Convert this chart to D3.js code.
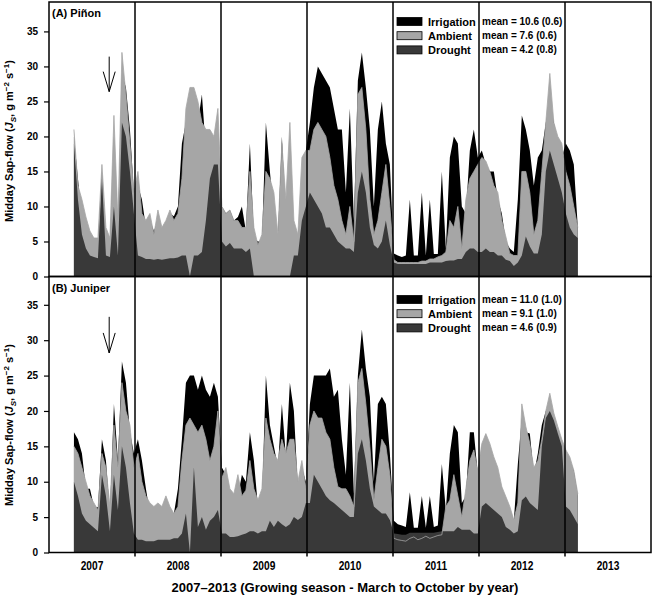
<!DOCTYPE html>
<html>
<head>
<meta charset="utf-8">
<script src="https://cdn.jsdelivr.net/npm/d3@7"></script>
<style>
  body { margin: 0; background: #fff; }
  text { font-family: Arial, "Liberation Sans", sans-serif; font-weight: bold; fill: #000; }
</style>
</head>
<body>
<div class="chart"></div>
<script>
// growing seasons shown along the bottom
const years = [2007, 2008, 2009, 2010, 2011, 2012, 2013];
const yTicks = [0, 5, 10, 15, 20, 25, 30, 35];

// readings are taken off the figure at a fixed spacing in (growing season) years
const firstSample = 2007.29;
const sampleStep = 0.0465;

const treatments = ['Irrigation', 'Ambient', 'Drought'];

// (A) pinon - midday sap flow
const pinonIrrigation = [
  20, 14, 8, 7, 5.7, 4.5, 5, 15, 5, 4.5,
  20, 7, 29, 27, 21, 12, 13, 11, 7, 8,
  6.5, 8, 6, 7, 9, 8.6, 10, 19, 22, 20,
  19, 22, 26, 18, 17, 16, 16, 10, 9, 9.5,
  8, 8.5, 10, 6.5, 19, 5.5, 5, 5, 22, 15,
  9, 5.5, 20, 8, 18, 6, 5.5, 12, 18, 22,
  27, 30, 29, 28, 27, 24, 21, 21, 12, 24,
  8, 28, 32, 27, 21, 10, 21, 25, 19, 16,
  3.3, 3, 2.8, 3, 11, 3, 3, 12, 3, 11,
  3.2, 3.2, 15, 4, 17, 20, 19, 10, 9, 18,
  21, 17, 18, 16, 15, 15, 11, 9, 5, 4,
  3.5, 11, 23, 21, 18, 13, 17, 18, 22, 25,
  22, 19, 17, 19, 18, 16, 7
];
const pinonAmbient = [
  21, 13, 11, 8.5, 6.5, 5.5, 5.5, 16, 7, 5.5,
  23, 8, 32, 26, 19, 12, 15, 9, 8, 9,
  6, 9.5, 7, 8, 9.5, 8, 9, 14, 24, 27,
  27, 25, 22, 21, 21, 20, 24, 10, 9, 9.5,
  8, 8, 7, 7, 15, 7, 4.5, 6, 15, 14,
  12, 6, 19, 11, 22, 8, 6, 17, 18, 18,
  21, 22, 21, 20, 17, 13, 11, 8, 6, 10,
  5, 26, 27, 21, 11, 6, 8, 12, 16, 10,
  2.4, 2, 2, 2, 2, 2, 2, 2.2, 2.2, 2.5,
  2.5, 2.8, 3, 3.5, 8, 7, 10, 4, 11, 14,
  15, 16, 17, 16.5, 15, 13, 12, 8, 5.7, 3.3,
  3, 3, 15, 15, 12, 6, 8, 15, 22, 29,
  22, 20, 19, 15, 13, 10, 7
];
const pinonDrought = [
  19, 11, 6, 4, 3, 2.8, 2.6, 14, 3, 2.8,
  10, 3, 22, 20, 15, 9, 3, 2.8, 2.5, 2.5,
  2.4, 2.5, 2.4, 2.5, 2.6, 2.6, 2.7, 3, 3, 0,
  3, 3, 3.5, 8, 14, 16, 16, 5, 4.3, 4.8,
  4, 4, 4, 3.5, 4, 0, 0, 0, 0, 0,
  0, 0, 0, 0, 0, 3, 3, 8, 10, 12,
  11, 10, 9, 7, 7, 6, 5, 4.5, 4, 4,
  3.5, 12, 15, 12, 7, 4.5, 4, 5, 8, 4.5,
  2, 1.8, 1.8, 1.8, 1.8, 1.8, 1.8, 1.8, 1.8, 2,
  2, 2, 2, 2.2, 2.3, 2.3, 2.5, 2.5, 3.5, 4,
  4, 3.5, 3.5, 4, 3.5, 3.5, 3, 3, 2.4, 2.2,
  1.5, 2, 3, 5.7, 4.3, 3.3, 3.3, 6, 15, 18,
  16, 14, 12, 9, 7, 6, 5.5
];
const pinonMeans = ['mean = 10.6 (0.6)', 'mean = 7.6 (0.6)', 'mean = 4.2 (0.8)'];
const pinonArrow = [2007.70, 31.4, 26.4];   // year, from, to

// (B) juniper - midday sap flow
const juniperIrrigation = [
  17, 16, 14, 9, 9, 6.5, 6.4, 16, 13, 5.5,
  21, 13, 27, 24, 17, 14, 16, 13, 9, 5.5,
  5, 4, 3.5, 5.5, 5.5, 5.5, 9, 16, 24, 25,
  25, 23, 25, 23, 22, 24, 22, 12, 11, 8,
  8, 8, 11, 10, 17, 13, 6.5, 7, 25, 18,
  15, 12, 21, 13.5, 24, 20, 9, 12, 10, 21,
  25, 25, 25, 25, 26, 22, 23, 16, 11, 24,
  8.3, 25, 31.5, 26, 22, 10, 21, 22, 21, 14,
  4.5, 4, 3.8, 3.6, 8.5, 3.5, 3.5, 8, 3.5, 8,
  3.6, 3.8, 12.5, 6, 14, 18, 17, 7, 8, 17,
  17, 11, 15, 16, 14.5, 13, 11, 9, 7, 6,
  4.5, 12.5, 19, 17, 16.8, 11, 14, 18, 20, 21,
  18, 15, 14, 13, 13, 11.5, 8
];
const juniperAmbient = [
  15, 14, 12, 10, 8, 7, 6, 14, 12, 6.5,
  18, 12, 24, 20, 18, 12, 14, 10, 8, 7,
  6.5, 7, 6.5, 8, 6.5, 5.5, 6.5, 13, 18, 19,
  18, 17, 18, 16, 13, 15, 20, 10.5, 12, 9,
  8.3, 11, 8, 8.8, 13, 9, 7.4, 9, 19, 16,
  14, 13, 16, 14, 16, 16, 10, 13, 9, 18,
  20, 19, 19, 17, 16, 12, 9.3, 9, 9, 8,
  6.5, 24, 26, 21, 15, 7.4, 12, 16, 15, 11,
  2, 1.8, 1.7, 1.6, 2, 2.2, 1.8, 2, 2.3, 2,
  2.2, 2.4, 2.5, 6.5, 7.4, 11, 8, 5, 9, 13,
  14.5, 11.5, 15.4, 16.8, 15.4, 13.5, 12, 9.3, 7.9, 6.5,
  4.6, 7, 21, 17.8, 15.4, 12, 13, 16, 20, 22.5,
  19.7, 17.8, 16, 14.5, 13.5, 11.6, 8.3
];
const juniperDrought = [
  10, 8, 5.5, 4.5, 4, 3.5, 3, 11, 8, 3,
  11, 6, 15, 12, 7, 2.7, 1.8, 1.8, 1.6, 1.6,
  1.6, 1.8, 1.8, 1.8, 1.8, 2, 2, 2.7, 5.5, 0,
  12, 3.6, 5, 3.2, 4.5, 5, 6, 2.7, 2.7, 2.2,
  2.2, 2.3, 2.5, 2.7, 3, 3, 2.7, 3, 3, 4.5,
  3.6, 4.5, 4, 3.6, 4, 5, 4.6, 5, 7, 7,
  11, 10, 9, 8, 7.4, 7, 6.5, 6, 5.5, 5,
  5, 14, 16, 13, 9, 6.5, 6, 5.5, 5.5, 4.6,
  2.7, 2.6, 2.5, 2.5, 2.8, 2.8, 2.8, 2.8, 2.8, 2.8,
  2.8, 2.9, 3, 3, 3, 3, 3.6, 3.2, 3.2, 3.2,
  2.7, 2.7, 6.5, 7, 6.5, 6, 5.5, 5, 3.6, 3.2,
  2.7, 3, 7.4, 7.9, 7, 6.5, 6, 15, 19, 20,
  18.7, 16.8, 15, 6.5, 6, 5, 4
];
const juniperMeans = ['mean = 11.0 (1.0)', 'mean = 9.1 (1.0)', 'mean = 4.6 (0.9)'];
const juniperArrow = [2007.70, 33.3, 28.2];

// ---- layout ----
const width = 652;
const height = 597;
const left = 49;
const right = 651;

const colours = { Irrigation: '#000000', Ambient: '#a6a6a6', Drought: '#393939' };

const panels = [
  { label: '(A) Piñon', top: 2, bottom: 276.5, yMax: 39.2, legendTop: 21.5, titleMid: 141,
    irr: pinonIrrigation, amb: pinonAmbient, dro: pinonDrought, means: pinonMeans, arrow: pinonArrow },
  { label: '(B)  Juniper', top: 276.5, bottom: 552.5, yMax: 39, legendTop: 299.5, titleMid: 425,
    irr: juniperIrrigation, amb: juniperAmbient, dro: juniperDrought, means: juniperMeans, arrow: juniperArrow }
];

const svg = d3.select('.chart').append('svg').attr('width', width).attr('height', height);

const x = d3.scaleLinear().domain([years[0], years[years.length - 1] + 1]).range([left, right]);

panels.forEach(p => {
  const y = d3.scaleLinear().domain([0, p.yMax]).range([p.bottom, p.top]);
  const g = svg.append('g');

  // join the three treatments by reading
  const rows = p.irr.map((v, i) => ({
    t: firstSample + i * sampleStep,
    irr: v, amb: p.amb[i], dro: p.dro[i]
  }));

  const area = key => d3.area().x(d => x(d.t)).y0(y(0)).y1(d => y(d[key]));

  // irrigation at the back, drought in front
  g.append('path').datum(rows).attr('d', area('irr')).attr('fill', colours.Irrigation);
  g.append('path').datum(rows).attr('d', area('amb')).attr('fill', colours.Ambient);
  g.append('path').datum(rows).attr('d', area('dro')).attr('fill', colours.Drought);
  // ambient edge stays visible where it drops under drought
  g.append('path').datum(rows)
    .attr('d', d3.line().x(d => x(d.t)).y(d => y(d.amb)))
    .attr('fill', 'none').attr('stroke', colours.Ambient).attr('stroke-width', 0.8);

  // frame
  g.append('rect')
    .attr('x', left).attr('y', p.top)
    .attr('width', right - left).attr('height', p.bottom - p.top)
    .attr('fill', 'none').attr('stroke', '#000').attr('stroke-width', 1.5);

  // y axis
  const yAxis = g.append('g')
    .attr('transform', `translate(${left},0)`)
    .call(d3.axisLeft(y).tickValues(yTicks).tickSize(5).tickSizeOuter(0).tickPadding(6));
  yAxis.select('.domain').remove();
  yAxis.selectAll('line').attr('stroke', '#000').attr('stroke-width', 1.2);
  yAxis.selectAll('text').style('font-size', '10px').style('font-weight', 'bold')
    .style('font-family', 'Arial, "Liberation Sans", sans-serif');

  // panel label
  g.append('text').attr('x', 52).attr('y', p.top + 15).style('font-size', '11px').text(p.label);

  // arrow marking an event
  const ax = x(p.arrow[0]);
  g.append('line')
    .attr('x1', ax).attr('x2', ax).attr('y1', y(p.arrow[1])).attr('y2', y(p.arrow[2]))
    .attr('stroke', '#000').attr('stroke-width', 1);
  g.append('path')
    .attr('d', `M${ax - 6},${y(p.arrow[2]) - 20}L${ax},${y(p.arrow[2])}L${ax + 6},${y(p.arrow[2]) - 20}`)
    .attr('fill', 'none').attr('stroke', '#000').attr('stroke-width', 1);

  // legend
  treatments.forEach((name, i) => {
    const ry = p.legendTop + i * 14.2;
    g.append('rect').attr('x', 397).attr('y', ry - 4).attr('width', 25).attr('height', 8)
      .attr('fill', colours[name]).attr('stroke', '#000').attr('stroke-width', 0.8);
    g.append('text').attr('x', 428).attr('y', ry + 4).style('font-size', '11px').text(name);
    g.append('text').attr('x', 482).attr('y', ry + 3.5).style('font-size', '10px').text(p.means[i]);
  });

  // y title
  const yt = svg.append('text')
    .attr('transform', `translate(13,${p.titleMid}) rotate(-90)`)
    .attr('text-anchor', 'middle')
    .style('font-size', '11px');
  yt.append('tspan').text('Midday Sap-flow (');
  yt.append('tspan').style('font-style', 'italic').text('J');
  yt.append('tspan').attr('dy', 3).style('font-size', '8px').style('font-style', 'italic').text('S');
  yt.append('tspan').attr('dy', -3).text(', g m');
  yt.append('tspan').attr('dy', -4).style('font-size', '8px').text('−2');
  yt.append('tspan').attr('dy', 4).text(' s');
  yt.append('tspan').attr('dy', -4).style('font-size', '8px').text('−1');
  yt.append('tspan').attr('dy', 4).text(')');
});

// season boundaries run through both panels
svg.append('g').selectAll('line')
  .data(years.slice(1))
  .join('line')
  .attr('x1', d => x(d)).attr('x2', d => x(d))
  .attr('y1', panels[0].top).attr('y2', panels[1].bottom + 4)
  .attr('stroke', '#000').attr('stroke-width', 1.5);

// year labels (the figure's lettering is a little narrow and tall)
svg.append('g').selectAll('text')
  .data(years)
  .join('text')
  .attr('transform', d => `translate(${x(d + 0.5)},570) scale(0.85,1)`)
  .attr('text-anchor', 'middle')
  .style('font-size', '12px')
  .text(d => d);

// x title
svg.append('text').attr('x', 345).attr('y', 592).attr('text-anchor', 'middle')
  .style('font-size', '13px')
  .text('2007–2013 (Growing season - March to October by year)');
</script>
</body>
</html>
